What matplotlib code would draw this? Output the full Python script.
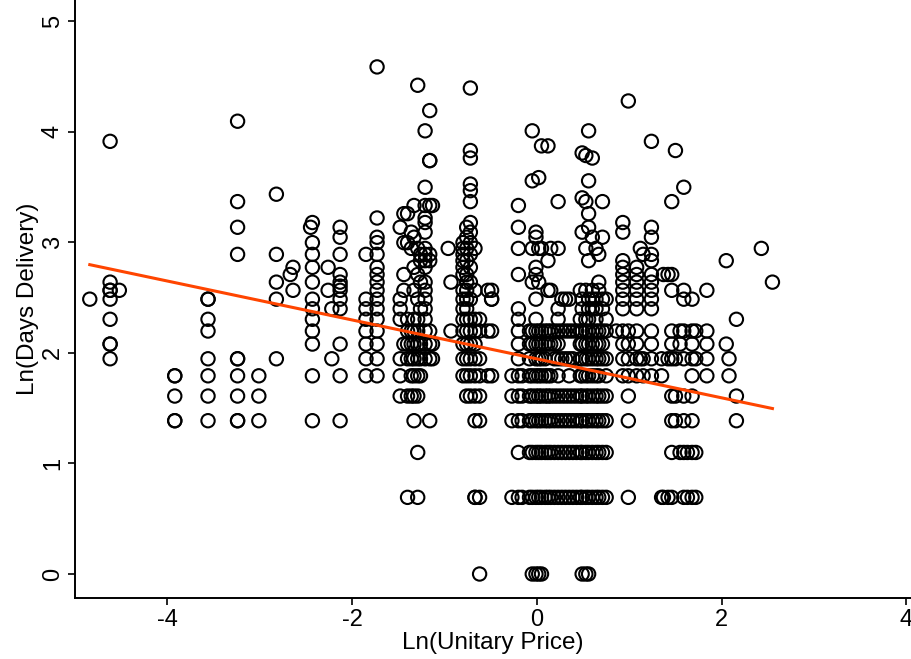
import numpy as np
import matplotlib
matplotlib.use('Agg')
import matplotlib.pyplot as plt

# Ln(Unitary Price) value of each vertical group of points
col_price = [
    -4.84, -4.62, -4.52, -3.92, -3.56, -3.24, -3.01, -2.82, -2.67, -2.64,
    -2.45, -2.43, -2.26, -2.22, -2.13, -1.85, -1.73, -1.48, -1.44, -1.40,
    -1.36, -1.33, -1.29, -1.26, -1.21, -1.16, -1.13, -0.96, -0.93, -0.80,
    -0.76, -0.72, -0.67, -0.62, -0.53, -0.49, -0.27, -0.20, -0.16,
    -0.08, -0.05, -0.01, 0.02, 0.05, 0.09, 0.12, 0.15, 0.19, 0.23,
    0.27, 0.31, 0.35, 0.39, 0.43, 0.47, 0.49, 0.53, 0.56, 0.60,
    0.64, 0.67, 0.71, 0.75,
    0.86, 0.93, 0.99, 1.08, 1.12, 1.15, 1.24, 1.35, 1.37, 1.42,
    1.46, 1.50, 1.55, 1.59, 1.63, 1.68, 1.72, 1.84, 2.05, 2.08,
    2.16, 2.43, 2.55,
]

# Ln(Days Delivery) values in each group
col_days = [
    [2.485],
    [3.912, 2.639, 2.565, 2.565, 2.485, 2.303, 2.079, 2.079, 1.946],
    [2.565],
    [1.792, 1.792, 1.609, 1.386, 1.386],
    [2.485, 2.485, 2.303, 2.197, 1.946, 1.792, 1.609, 1.386],
    [4.094, 3.367, 3.135, 2.890, 1.946, 1.946, 1.792, 1.609, 1.386, 1.386],
    [1.792, 1.609, 1.386],
    [3.434, 2.890, 2.639, 2.485, 1.946],
    [2.708],
    [2.773, 2.565],
    [3.135],
    [3.178, 2.996, 2.890, 2.773, 2.639, 2.485, 2.398, 2.303, 2.197, 2.079, 1.792, 1.386],
    [2.773, 2.565],
    [2.398, 1.946],
    [3.135, 3.045, 2.890, 2.708, 2.639, 2.603, 2.565, 2.485, 2.398, 2.079, 1.792, 1.386],
    [2.890, 2.485, 2.398, 2.303, 2.197, 2.079, 1.946, 1.792],
    [4.585, 3.219, 3.045, 2.996, 2.890, 2.773, 2.708, 2.639, 2.565, 2.485, 2.398, 2.303,
     2.197, 2.079, 1.946, 1.792],
    [3.135, 2.485, 2.398, 2.303, 1.946, 1.792, 1.609],
    [3.258, 2.996, 2.708, 2.565, 2.079],
    [3.258, 2.996, 2.303, 2.197, 2.079, 1.946, 1.609, 0.693],
    [3.091, 2.944, 2.197, 2.079, 1.946, 1.792, 1.609],
    [3.332, 3.045, 2.773, 2.565, 2.303, 2.197, 2.079, 1.946, 1.792, 1.609, 1.386],
    [4.419, 2.944, 2.708, 2.485, 2.303, 2.197, 2.079, 1.946, 1.792, 1.609, 1.099, 0.693],
    [2.890, 2.833, 2.639, 2.398, 2.079, 1.946, 1.792],
    [4.007, 3.497, 3.332, 3.219, 3.178, 3.091, 2.944, 2.890, 2.833, 2.773, 2.639, 2.565,
     2.485, 2.398, 2.303, 2.197, 2.079, 1.946],
    [4.190, 3.738, 3.738, 3.332, 2.890, 2.833, 2.197, 2.079, 1.946, 1.386],
    [3.332, 2.079, 1.946],
    [2.944],
    [2.639, 2.197],
    [2.996, 2.944, 2.890, 2.833, 2.773, 2.708, 2.565, 2.485, 2.398, 2.303, 2.197, 2.079,
     1.946, 1.792],
    [3.135, 3.045, 2.944, 2.833, 2.708, 2.639, 2.565, 2.485, 2.398, 2.303, 2.197, 2.079,
     1.946, 1.792, 1.609],
    [4.394, 3.829, 3.761, 3.526, 3.466, 3.367, 3.178, 3.091, 2.996, 2.890, 2.773, 2.639,
     2.485, 2.303, 2.197, 2.079, 1.946, 1.792, 1.609],
    [2.944, 2.565, 2.303, 2.197, 2.079, 1.946, 1.792, 1.609, 1.386, 0.693, 0.693],
    [2.303, 2.197, 1.946, 1.792, 1.609, 1.386, 0.693, 0.0],
    [2.565, 2.197, 1.792],
    [2.565, 2.485, 2.485, 2.197, 1.792],
    [1.792, 1.609, 1.386, 0.693],
    [3.332, 3.135, 2.944, 2.708, 2.398, 2.303, 2.197, 2.079, 1.946, 1.792, 1.609, 1.386,
     1.099, 0.693],
    [1.792, 1.609, 1.386, 0.693],
    [2.197, 2.079, 1.946, 1.792, 1.609, 1.386, 1.099, 0.693],
    [4.007, 3.555, 2.944, 2.639, 2.197, 2.079, 1.792, 1.609, 1.386, 1.099, 0.693, 0.0],
    [3.091, 3.045, 2.773, 2.708, 2.485, 2.303, 2.197, 2.079, 1.946, 1.792, 1.609, 1.386,
     1.099, 0.693, 0.0],
    [3.584, 2.944, 2.639, 2.197, 2.079, 1.946, 1.792, 1.609, 1.386, 1.099, 0.693, 0.0],
    [3.871, 2.944, 2.197, 2.079, 1.946, 1.792, 1.609, 1.386, 1.099, 0.693, 0.0],
    [2.197, 2.079, 1.946, 1.792, 1.609, 1.386, 1.099, 0.693],
    [3.871, 2.833, 2.565, 2.197, 2.079, 1.792, 1.609, 1.386, 1.099, 0.693],
    [2.944, 2.565, 2.197, 2.079, 1.792, 1.609, 1.386, 1.099, 0.693],
    [2.197, 2.079, 1.946, 1.609, 1.386, 1.099, 0.693],
    [3.367, 2.944, 2.398, 2.303, 2.197, 2.079, 1.946, 1.792, 1.609, 1.386, 1.099, 0.693],
    [2.485, 2.197, 1.946, 1.609, 1.386, 1.099, 0.693],
    [2.485, 2.197, 1.946, 1.609, 1.386, 1.099, 0.693],
    [2.485, 2.197, 1.946, 1.792, 1.609, 1.386, 1.099, 0.693],
    [2.197, 1.946, 1.609, 1.386, 1.099, 0.693],
    [2.197, 1.609, 1.386, 1.099, 0.693],
    [2.565, 2.303, 2.197, 2.079, 1.946, 1.792, 1.609, 1.386, 1.099, 0.693],
    [3.807, 3.401, 3.091, 2.485, 2.398, 2.197, 2.079, 1.946, 1.792, 1.609, 1.386, 1.099,
     0.693, 0.0],
    [3.784, 3.367, 2.944, 2.565, 2.303, 2.197, 2.079, 1.946, 1.792, 1.609, 1.386, 1.099,
     0.693, 0.0],
    [4.007, 3.555, 3.258, 3.135, 2.833, 2.485, 2.398, 2.303, 2.197, 2.079, 1.946, 1.792,
     1.609, 1.386, 1.099, 0.693, 0.0],
    [3.761, 3.045, 2.565, 2.485, 2.398, 2.197, 2.079, 1.946, 1.792, 1.609, 1.386, 1.099,
     0.693],
    [2.944, 2.485, 2.398, 2.303, 2.197, 2.079, 1.946, 1.792, 1.609, 1.386, 1.099, 0.693],
    [2.890, 2.639, 2.565, 2.197, 2.079, 1.946, 1.792, 1.609, 1.386, 1.099, 0.693],
    [3.367, 3.045, 2.485, 2.398, 2.197, 2.079, 1.946, 1.609, 1.386, 1.099, 0.693],
    [2.485, 2.303, 2.197, 1.946, 1.792, 1.609, 1.386, 1.099, 0.693],
    [2.197],
    [3.178, 3.091, 2.833, 2.773, 2.708, 2.639, 2.565, 2.485, 2.398, 2.197, 2.079, 1.946,
     1.792],
    [4.277, 2.197, 2.079, 1.946, 1.792, 1.609, 1.386, 0.693],
    [2.773, 2.708, 2.639, 2.565, 2.485, 2.398, 2.197, 2.079, 1.946, 1.792],
    [2.944, 1.946],
    [2.890, 1.946, 1.792],
    [3.912, 3.135, 3.045, 2.890, 2.833, 2.708, 2.639, 2.565, 2.485, 2.398, 2.197, 2.079,
     1.946, 1.792],
    [1.946, 1.792, 0.693],
    [2.708, 0.693],
    [2.708, 1.946, 0.693],
    [3.367, 2.708, 2.565, 2.197, 2.079, 1.946, 1.609, 1.386, 1.099, 0.693],
    [3.829, 1.946, 1.609, 1.386],
    [2.197, 2.079, 1.099],
    [3.497, 2.565, 2.485, 2.197, 1.946, 1.609, 1.386, 1.099, 0.693],
    [1.099, 0.693],
    [2.485, 2.197, 2.079, 1.946, 1.792, 1.609, 1.386, 1.099, 0.693],
    [2.197, 1.946, 1.099, 0.693],
    [2.565, 2.197, 2.079, 1.946, 1.792],
    [2.833, 2.079],
    [1.946, 1.792],
    [2.303, 1.609, 1.386],
    [2.944],
    [2.639],
]

# fitted line
fit_intercept = 1.945
fit_slope = -0.176

x_ticks = [-4, -2, 0, 2, 4]
y_ticks = [0, 1, 2, 3, 4, 5]

ln_price = np.concatenate([[p] * len(d) for p, d in zip(col_price, col_days)])
ln_days = np.concatenate([np.asarray(d, dtype=float) for d in col_days])

plt.rcParams['font.family'] = ['Liberation Sans', 'DejaVu Sans']
fig = plt.figure(figsize=(9.11, 6.59), dpi=100)
ax = fig.add_axes([75 / 911, 1 - 598 / 659, 1 - 75 / 911, 598 / 659])

ax.scatter(ln_price, ln_days, s=92, facecolors='none', edgecolors='black',
           linewidths=1.5, zorder=2)
xl = np.array([ln_price.min(), ln_price.max()])
ax.plot(xl, fit_intercept + fit_slope * xl, color='#ff4500', lw=2.2, zorder=3)

ax.set_xlim(-5.0, 4.05)
ax.set_ylim(-0.217, 5.19)
ax.set_xticks(x_ticks)
ax.set_yticks(y_ticks)
ax.set_xticklabels([str(t) for t in x_ticks])
ax.set_yticklabels([str(t) for t in y_ticks], rotation=90, va='center')
for s in ['top', 'right']:
    ax.spines[s].set_visible(False)
for s in ['left', 'bottom']:
    ax.spines[s].set_linewidth(1.4)
ax.tick_params(direction='out', length=5, width=1.2, labelsize=17, pad=3)
ax.set_xlabel('Ln(Unitary Price)', fontsize=17.5, labelpad=1)
ax.set_ylabel('Ln(Days Delivery)', fontsize=17.5, labelpad=2)

fig.savefig('out.png', dpi=100)
